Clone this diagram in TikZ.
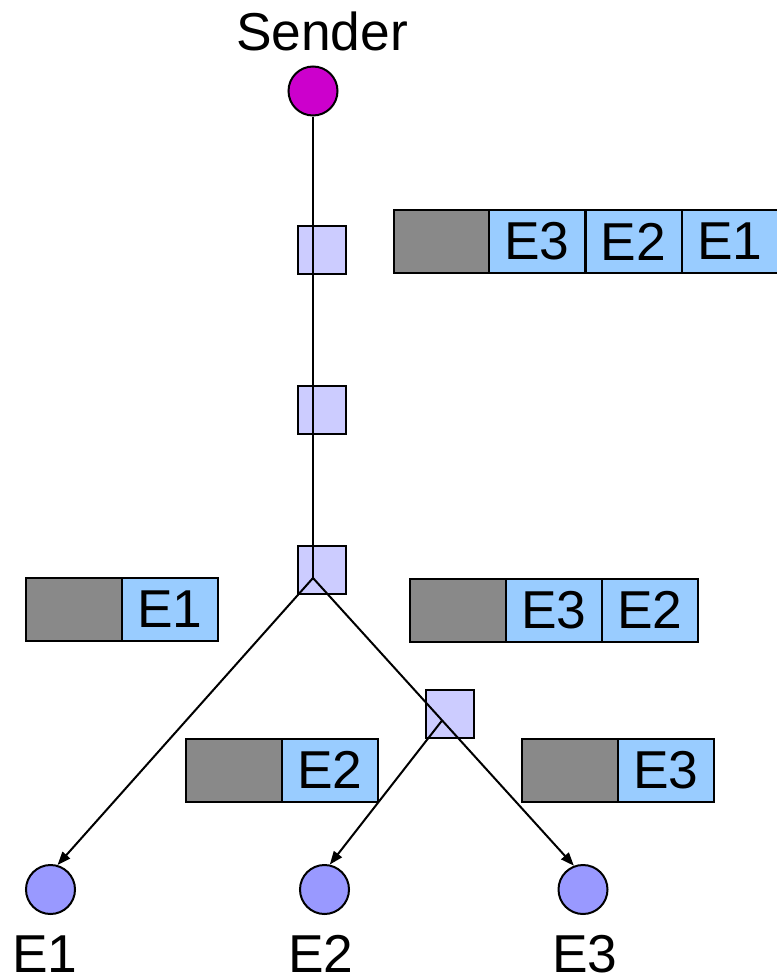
\documentclass[tikz,border=0pt]{standalone}
\usepackage{fontspec}
\setmainfont{Liberation Sans}
\usetikzlibrary{arrows.meta,calc}
\definecolor{sendc}{HTML}{CC00CC}
\definecolor{endc}{HTML}{9999FF}
\definecolor{sqc}{HTML}{CCCCFF}
\definecolor{grayc}{HTML}{898989}
\definecolor{bluec}{HTML}{99CCFF}
\begin{document}
\begin{tikzpicture}[x=0.75pt,y=-0.75pt,line width=1.5pt,
  font=\fontsize{40}{48}\selectfont,
  cellg/.style={draw,fill=grayc,minimum width=72pt,minimum height=47.25pt,inner sep=0pt,line width=1.5pt},
  cellb/.style={cellg,fill=bluec},
  sq/.style={draw,fill=sqc,minimum size=36pt,inner sep=0pt},
  endpt/.style={circle,draw,fill=endc,minimum size=36.75pt,inner sep=0pt},
  sendpt/.style={endpt,fill=sendc},
  lbl/.style={anchor=base,inner sep=0pt},
  conn/.style={line width=1.5pt},
  arr/.style={conn,-{Triangle[length=10pt,width=7.5pt]}}]
\useasboundingbox (0,0) rectangle (777,978);
\clip (0,0) rectangle (777,978);
% packets
\node[cellg] (t0) at (441.5,241.5) {};
\node[cellb] (t1) at (537,241.5) {E3};
\node[cellb] (t2) at (633.5,241.5) {E2};
\node[cellb] (t3) at (730,241.5) {E1};
\node[cellg] (a0) at (74,609) {};
\node[cellb] (a1) at (170,609) {E1};
\node[cellg] (b0) at (458,610) {};
\node[cellb] (b1) at (554,610) {E3};
\node[cellb] (b2) at (650,610) {E2};
\node[cellg] (c0) at (234,770) {};
\node[cellb] (c1) at (330,770) {E2};
\node[cellg] (d0) at (570,770) {};
\node[cellb] (d1) at (666,770) {E3};
% squares
\node[sq] (q1) at (322,250) {};
\node[sq] (q2) at (322,410) {};
\node[sq] (q3) at (322,570) {};
\node[sq] (q4) at (450,714) {};
% end points
\node[sendpt] (s) at (313,91) {};
\node[lbl] (slab) at (322,50) {Sender};
\node[endpt] (e1) at (50.5,889.5) {};
\node[endpt] (e2) at (324.5,889.5) {};
\node[endpt] (e3) at (583,889.5) {};
\node[lbl] (l1) at (45,972) {E1};
\node[lbl] (l2) at (321,972) {E2};
\node[lbl] (l3) at (585,972) {E3};
% connectors
\coordinate (j1) at (313,578);
\coordinate (j2) at ($(j1)!0.495!(e3.111)$);
\draw[conn] (s) -- (j1);
\draw[arr] (j1) -- (e1.74);
\draw[arr] (j1) -- (e3.111);
\draw[arr] (j2) -- (e2.78);
\end{tikzpicture}
\end{document}
